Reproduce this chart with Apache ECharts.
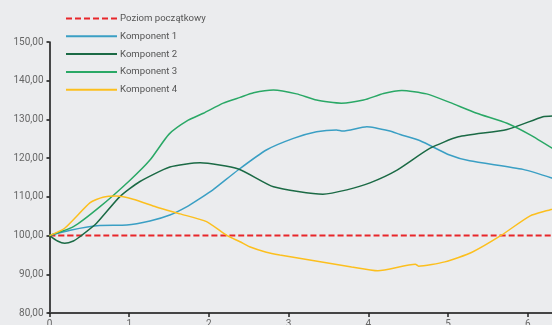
<!DOCTYPE html>
<html>
<head>
<meta charset="utf-8">
<script src="https://cdn.jsdelivr.net/npm/echarts@6/dist/echarts.min.js"></script>
<style>
html,body{margin:0;padding:0;overflow:hidden;background:#ebecee;width:552px;height:325px;}
#c{width:620px;height:325px;}
</style>
</head>
<body>
<div id="c"></div>
<script>
const legendNames = ['Poziom początkowy','Komponent 1','Komponent 2','Komponent 3','Komponent 4'];
const baseX = [0, 7];
const baseY = [100, 100];
const k1X = [0,0.26,0.63,0.97,1.26,1.51,1.72,1.89,2.05,2.37,2.72,3.06,3.35,3.60,3.68,3.98,4.27,4.40,4.65,5.02,5.27,5.94,6.31];
const k1Y = [100,101.4,102.6,102.7,103.75,105.3,107.4,109.6,111.8,117.0,122.1,125.1,126.8,127.3,127.0,128.1,127.0,126.1,124.5,120.8,119.3,117.1,114.8];
const k2X = [0,0.1,0.19,0.3,0.38,0.59,0.88,1.13,1.51,1.89,2.37,2.81,3.43,3.73,4.02,4.36,4.77,5.13,5.74,6.19,6.31];
const k2Y = [100,98.6,98.0,98.6,99.7,103.2,110.0,113.9,117.7,118.8,117.2,112.6,110.7,111.8,113.6,116.9,122.5,125.5,127.4,130.7,130.9];
const k3X = [0,0.30,0.63,1.01,1.26,1.50,1.74,1.93,2.18,2.39,2.56,2.81,3.10,3.35,3.66,3.94,4.19,4.42,4.73,5.02,5.36,5.74,6.03,6.31];
const k3Y = [100,102.3,107.4,114.3,119.5,126.2,129.8,131.6,134.2,135.7,136.9,137.6,136.6,135.0,134.2,135.0,136.7,137.5,136.6,134.4,131.6,129.0,126.0,122.5];
const k4X = [0,0.19,0.51,0.67,0.84,1.05,1.34,1.64,1.97,2.22,2.39,2.51,2.72,2.89,3.79,4.12,4.59,4.63,4.96,5.30,5.67,6.03,6.31];
const k4Y = [100,101.9,108.5,109.9,110.2,109.4,107.4,105.6,103.6,100.1,98.4,97.1,95.7,95.0,91.9,90.9,92.6,92.1,93.2,95.7,100.1,105.1,106.8];
const yTicks = {min:80, max:150, interval:10};
const xTicks = {min:0, max:7, interval:1};

function pairs(xs, ys){ return xs.map((x,i)=>[x, ys[i]]); }

const chart = echarts.init(document.getElementById('c'), null, {renderer:'canvas'});
const font = 'Roboto, "Noto Sans", sans-serif';
function lineSeries(name, data, color, width, type){
  return {name, type:'line', data, showSymbol:false, symbol:'none', smooth:0.2,
    lineStyle:{color, width, type: type||'solid'}, itemStyle:{color}, z: type ? 1 : 3, animation:false};
}
chart.setOption({
  backgroundColor:'#ebecee',
  animation:false,
  textStyle:{fontFamily:font},
  legend:{
    orient:'vertical', left:65, top:13.5, padding:0,
    itemWidth:51, itemHeight:10, itemGap:7.8,
    itemStyle:{opacity:0},
    textStyle:{fontSize:9.6, color:'#555', fontFamily:font, padding:[0,0,0,-2]},
    data: legendNames
  },
  grid:{left:49.5, top:42, bottom:12, width:558, containLabel:false, outerBoundsMode:'none'},
  xAxis:{
    type:'value', min:xTicks.min, max:xTicks.max, interval:xTicks.interval,
    splitLine:{show:false},
    axisLine:{show:true, lineStyle:{color:'#444', width:2}},
    axisTick:{show:true, length:4, lineStyle:{color:'#222', width:1.5}},
    axisLabel:{fontSize:10, color:'#666', margin:6, fontFamily:font}
  },
  yAxis:{
    type:'value', min:yTicks.min, max:yTicks.max, interval:yTicks.interval,
    splitLine:{show:false},
    axisLine:{show:true, lineStyle:{color:'#111', width:1.5}},
    axisTick:{show:true, length:3, lineStyle:{color:'#111', width:1.5}},
    axisLabel:{fontSize:10, color:'#666', margin:6, fontFamily:font,
      formatter:v=>v.toFixed(2).replace('.',',')}
  },
  series:[
    lineSeries(legendNames[0], pairs(baseX, baseY), '#e8262a', 2, [6,3]),
    lineSeries(legendNames[1], pairs(k1X, k1Y), '#3a9fc4', 1.5),
    lineSeries(legendNames[2], pairs(k2X, k2Y), '#1b6a45', 1.5),
    lineSeries(legendNames[3], pairs(k3X, k3Y), '#2aa866', 1.5),
    lineSeries(legendNames[4], pairs(k4X, k4Y), '#fcbf1e', 1.5)
  ]
});
</script>
</body>
</html>
